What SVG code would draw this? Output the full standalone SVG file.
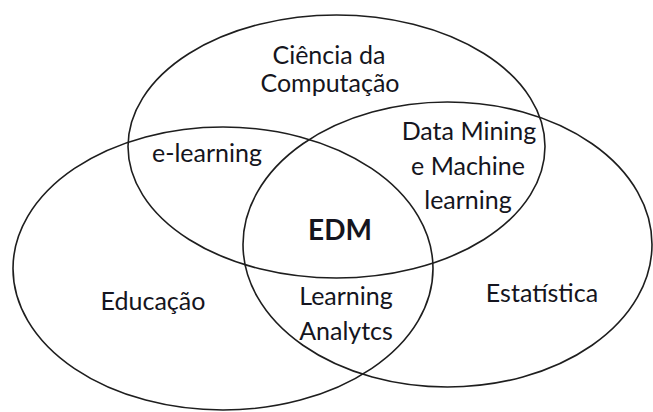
<svg xmlns="http://www.w3.org/2000/svg" width="653" height="412" viewBox="0 0 653 412">
<style>
.set{fill:none;stroke:#1e1e1e;stroke-width:1.6}
.t{font-family:Lato,"Open Sans","Liberation Sans",sans-serif;font-size:25px;fill:#151520;text-anchor:middle}
.b{font-weight:bold;font-size:28px}
</style>
<rect width="653" height="412" fill="#fff"/>
<g id="computacao">
<ellipse class="set" cx="336.5" cy="146.5" rx="208.5" ry="131.5"/>
<text class="t" x="329" y="64">Ciência da</text>
<text class="t" x="330" y="92">Computação</text>
</g>
<g id="educacao">
<ellipse class="set" cx="223" cy="268.5" rx="210" ry="141.5"/>
<text class="t" x="153" y="310">Educação</text>
</g>
<g id="estatistica">
<ellipse class="set" cx="447.5" cy="244.5" rx="204.5" ry="142.5"/>
<text class="t" x="542" y="302">Estatística</text>
</g>
<g id="elearning">
<text class="t" x="207" y="162">e-learning</text>
</g>
<g id="datamining">
<text class="t" x="469" y="140">Data Mining</text>
<text class="t" x="468" y="175">e Machine</text>
<text class="t" x="468" y="209">learning</text>
</g>
<g id="edm">
<text class="t b" x="340" y="240">EDM</text>
</g>
<g id="learninganalytics">
<text class="t" x="346" y="305">Learning</text>
<text class="t" x="346" y="340">Analytcs</text>
</g>
</svg>
